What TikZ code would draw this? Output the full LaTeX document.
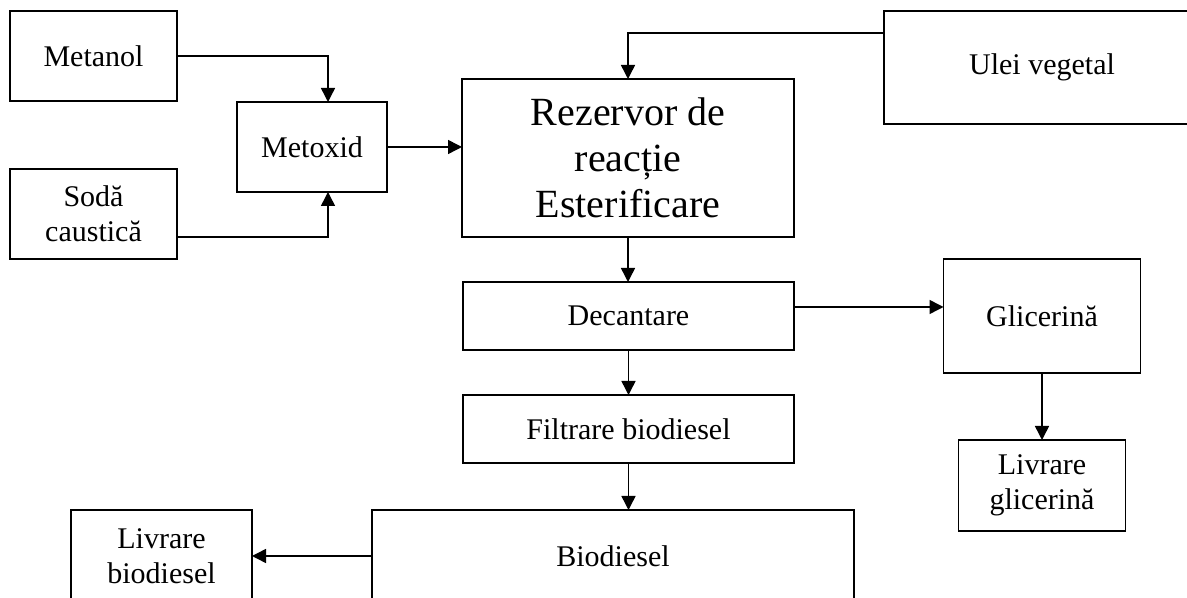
\documentclass[tikz,border=0pt]{standalone}
\usepackage{fontspec}
\setmainfont{Liberation Serif}
\usetikzlibrary{arrows.meta}

\begin{document}
\begin{tikzpicture}[>={Triangle[length=5.6pt,width=5.6pt]},x=0.4pt,y=-0.4pt,
  box/.style={draw,line width=0.6pt,inner sep=0pt,outer sep=0pt,align=center,
    font=\fontsize{12}{14}\selectfont},
  flow/.style={->,line width=0.6pt},
  ]

  \clip (0,0) rectangle (1187,598);

  % inputs
  \node[box,minimum width=66.8pt,minimum height=36pt] (metanol) at (93.5,56) {Metanol};
  \node[box,minimum width=66.8pt,minimum height=36pt] (soda) at (93.5,214) {Sodă\\ caustică};
  \node[box,minimum width=60pt,minimum height=36pt] (metoxid) at (312,147) {Metoxid};
  \node[box,minimum width=126.4pt,minimum height=45.2pt] (ulei) at (1042,67.5) {Ulei vegetal};

  % main line
  \node[box,minimum width=132.8pt,minimum height=63.2pt,
    font=\fontsize{16}{18.4}\selectfont] (rezervor) at (628,158) {Rezervor de\\ reacție\\ Esterificare};
  \node[box,minimum width=132.4pt,minimum height=27.2pt] (decantare) at (628.5,316) {Decantare};
  \node[box,minimum width=132.4pt,minimum height=27.2pt] (filtrare) at (628.5,429) {Filtrare biodiesel};
  \node[box,minimum width=192.8pt,minimum height=36.8pt] (biodiesel) at (613,556) {Biodiesel};
  \node[box,minimum width=72.4pt,minimum height=36.8pt] (livbio) at (161.5,556) {Livrare\\ biodiesel};

  % glycerine branch
  \node[box,minimum width=78.8pt,minimum height=45.6pt] (glicerina) at (1042,316) {Glicerină};
  \node[box,minimum width=66.8pt,minimum height=36.4pt] (livgli) at (1042,485.5) {Livrare\\ glicerină};

  \draw[flow] (metanol.east) -| ([xshift=6.4pt]metoxid.north);
  \draw[flow] ([yshift=-9.2pt]soda.east) -| ([xshift=6.4pt]metoxid.south);
  \draw[flow] (metoxid.east) -- (metoxid.east -| rezervor.west);
  \draw[flow] ([yshift=13.8pt]ulei.west) -| (rezervor.north);
  \draw[flow] (rezervor.south) -- (rezervor.south |- decantare.north);
  \draw[flow] ([yshift=3.6pt]decantare.east) -- ([yshift=3.6pt]decantare.east -| glicerina.west);
  \draw[flow] (decantare.south) -- (filtrare.north);
  \draw[flow] (filtrare.south) -- (filtrare.south |- biodiesel.north);
  \draw[flow] (glicerina.south) -- (livgli.north);
  \draw[flow] (biodiesel.west) -- (livbio.east);

\end{tikzpicture}
\end{document}
